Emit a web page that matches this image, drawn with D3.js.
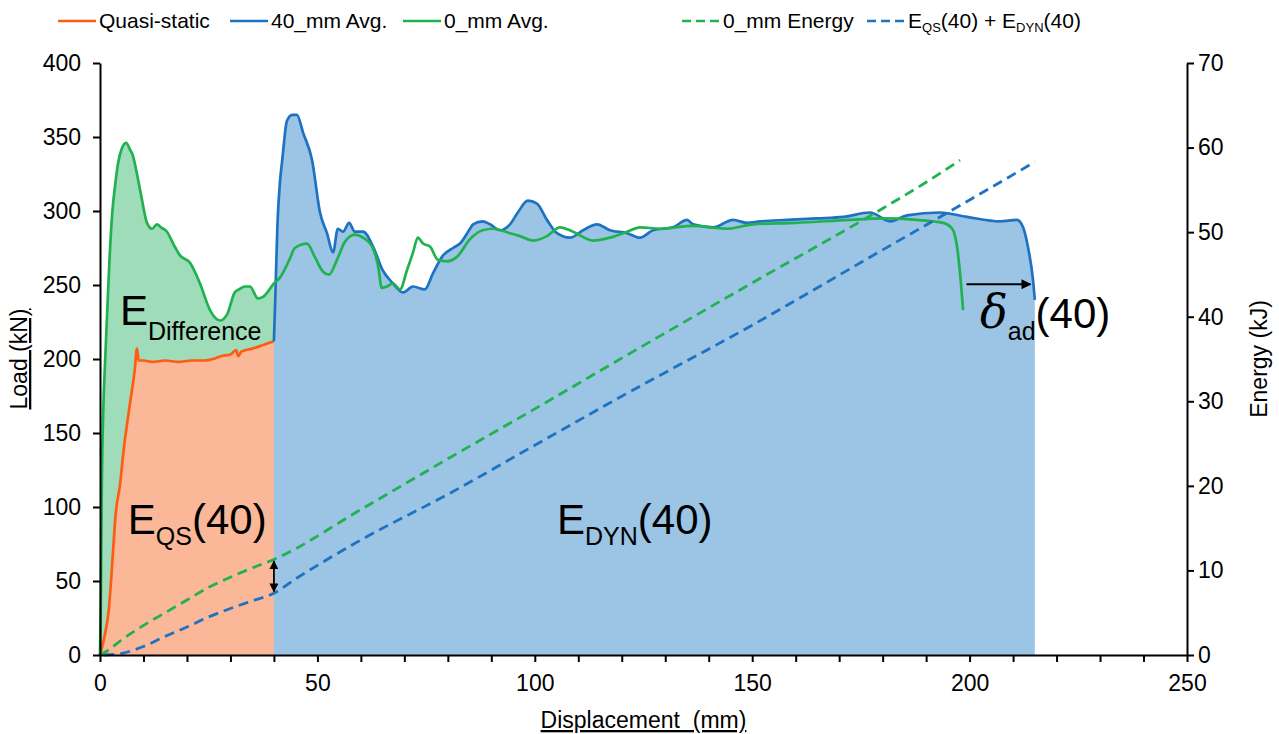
<!DOCTYPE html>
<html>
<head>
<meta charset="utf-8">
<script src="https://cdn.jsdelivr.net/npm/d3@7"></script>
<style>
  body { margin: 0; background: #fff; }
  svg text { font-family: "Liberation Sans", Arial, sans-serif; fill: #000; }
</style>
</head>
<body>
<div id="chart"></div>
<script>
// Load vs displacement, with energy on the right axis

// [displacement mm, load kN]
const quasiStatic = [[0,0],[1,12],[2,30],[3,70],[3.6,95],[4.6,115],[5.5,140],[6.9,170],[8,193],[8.5,207],[8.9,199],[10,199],[12,198],
  [15,199],[18,198],[21,199],[24,199],[26,200],[28,202],[30,203],[31.3,206],[31.8,202],[32.5,205],[35,207],[38,210],[40,212]];

const avg0 = [[0,0],[0.2,40],[0.4,110],[0.8,170],[1.2,200],[1.7,235],[2.2,268],[2.8,298],[3.5,318],[4.2,333],[5,342],[6,346],
  [7,341],[7.5,338],[8.5,325],[9.5,310],[10.8,292],[12,288],[13.1,291],[14,289],[15.4,286],[17,277],[18.4,270],[20.7,265],
  [23,251],[25.3,233],[27.6,226],[29.2,230],[31,245],[32,247],[33.3,249],[34.5,249],[36.3,241],[37.5,242],[40,251],
  [41.4,255],[43.7,268],[44.8,275],[47.6,278],[49.4,269],[51.3,259],[52.7,257],[54.5,267],[56.3,279],[58.6,284],[60.5,282],
  [62.6,276],[64,262],[64.8,248],[66,249],[67.4,251],[69,247],[70.6,260],[72,272],[73.1,282],[74.3,278],[75.9,276],[77.7,267],
  [79.8,266],[82.1,269],[85.1,281],[88,287],[90.4,288],[94.3,285],[96.6,283],[99.6,280],[102.8,283],[105.8,289],[108.8,286],
  [113.4,280],[117.3,282],[121.2,286],[124.2,289],[128.8,288],[136.4,290],[144.2,288],[150.2,291],[160,292],[172.5,294],
  [180.1,295],[187.9,294],[193.9,292],[196,288],[197.1,276],[197.8,258],[198.5,233]];

const avg40 = [[40,212],[40.3,240],[40.8,290],[41.4,320],[41.9,334],[43,361],[44.2,365],[45.3,365],[46.7,353],[48.8,334],
  [50.6,299],[52.2,285],[53.6,272],[54.7,288],[55.9,286],[57.3,292],[58.6,286],[60.5,286],[62.8,276],[65,260],[67.1,252],
  [69.7,245],[72,249],[74.7,247],[76.6,258],[78.9,270],[81.2,275],[82.8,278],[85.1,288],[85.8,291],[88,293],[89.7,291],
  [92,287],[94.3,291],[96.1,299],[98.4,307],[100.5,305],[102.8,294],[105.1,285],[108.1,282],[111.1,287],[114.3,291],
  [117.3,287],[121.2,285],[124.2,282],[127.2,287],[131.8,289],[135,294],[136.4,291],[141,289],[145.6,294],[148.8,292],
  [151.8,293],[158,294],[164.9,295],[171,296],[177.1,299],[181.7,293],[185.6,297],[193.2,299],[199.4,296],[207,293],
  [210.9,294],[212.3,289],[213.4,276],[214.6,253],[215,240]];

// [displacement mm, energy kJ]
const energy0 = [[0,0],[2,0.6],[5,1.8],[10,3.5],[15,5.0],[20,6.5],[25,8.0],[30,9.2],[35,10.3],[40,11.3],[60,17.2],
  [80,23.2],[100,29.1],[120,35.1],[150,44.0],[180,52.8],[190,55.9],[197.8,58.5]];
const energy40 = [[1,0],[5,0.2],[10,1.0],[15,2.2],[20,3.3],[25,4.5],[30,5.5],[35,6.4],[40,7.3],[45,9.0],[50,10.6],
  [60,13.6],[80,19.0],[100,24.8],[120,30.6],[150,39.0],[180,47.9],[200,53.8],[215,58.3]];

const loadTicks = d3.range(0, 401, 50);
const energyTicks = d3.range(0, 71, 10);
const dispTicks = d3.range(0, 251, 10);

const W = 1279, H = 734;
const m = {left: 100, right: 92, top: 63, bottom: 79};
const C = {
  orange: "#ff5b12", orangeFill: "#fbb898",
  green: "#1fb24f", greenFill: "#9fdcba",
  blue: "#1e72c2", blueFill: "#9cc4e4"
};
const tickFont = 23, titleFont = 23, legendFont = 21;

const svg = d3.select("#chart").append("svg").attr("width", W).attr("height", H);
const x = d3.scaleLinear().domain([0, 250]).range([m.left, W - m.right]);
const y = d3.scaleLinear().domain([0, 400]).range([H - m.bottom, m.top]);
const yE = d3.scaleLinear().domain([0, 70]).range([H - m.bottom, m.top]);

const area = d3.area().x(d => x(d[0])).y0(y(0)).y1(d => y(d[1])).curve(d3.curveMonotoneX);
const line = d3.line().x(d => x(d[0])).y(d => y(d[1])).curve(d3.curveMonotoneX);
const lineE = d3.line().x(d => x(d[0])).y(d => yE(d[1])).curve(d3.curveMonotoneX);

// filled regions
svg.append("path").attr("d", area(avg0.filter(d => d[0] <= 40))).attr("fill", C.greenFill);
svg.append("path").attr("d", area(quasiStatic)).attr("fill", C.orangeFill);
svg.append("path").attr("d", area(avg40)).attr("fill", C.blueFill);

// load curves
svg.append("path").attr("d", line(quasiStatic)).attr("fill", "none").attr("stroke", C.orange).attr("stroke-width", 2.7);
svg.append("path").attr("d", line(avg40)).attr("fill", "none").attr("stroke", C.blue).attr("stroke-width", 2.7);
svg.append("path").attr("d", line(avg0)).attr("fill", "none").attr("stroke", C.green).attr("stroke-width", 2.7);

// energy curves
svg.append("path").attr("d", lineE(energy0)).attr("fill", "none").attr("stroke", C.green)
  .attr("stroke-width", 2.8).attr("stroke-dasharray", "10,6");
svg.append("path").attr("d", lineE(energy40)).attr("fill", "none").attr("stroke", C.blue)
  .attr("stroke-width", 2.8).attr("stroke-dasharray", "10,6");

// axes
const axB = svg.append("g").attr("transform", `translate(0,${y(0)})`)
  .call(d3.axisBottom(x).tickValues(dispTicks).tickSize(7).tickSizeOuter(0)
    .tickFormat(d => d % 50 === 0 ? d : ""));
const axL = svg.append("g").attr("transform", `translate(${m.left},0)`)
  .call(d3.axisLeft(y).tickValues(loadTicks).tickSize(7).tickSizeOuter(0));
const axR = svg.append("g").attr("transform", `translate(${W - m.right},0)`)
  .call(d3.axisRight(yE).tickValues(energyTicks).tickSize(7).tickSizeOuter(0));
[axB, axL, axR].forEach(a => {
  a.select(".domain").attr("stroke", "#000").attr("stroke-width", 2);
  a.selectAll(".tick line").attr("stroke", "#000").attr("stroke-width", 2);
  a.selectAll(".tick text").attr("font-size", tickFont).attr("fill", "#000")
    .style("font-family", '"Liberation Sans", Arial, sans-serif');
});
axB.selectAll(".tick text").attr("dy", "1.15em");
axL.selectAll(".tick text").attr("x", -19);
axR.selectAll(".tick text").attr("x", 11);

// axis titles
svg.append("text").attr("transform", `translate(27,${(y(0) + y(400)) / 2}) rotate(-90)`)
  .attr("text-anchor", "middle").attr("font-size", titleFont).style("text-decoration", "underline").text("Load (kN)");
svg.append("text").attr("transform", `translate(1267,${(y(0) + y(400)) / 2}) rotate(-90)`)
  .attr("text-anchor", "middle").attr("font-size", titleFont).text("Energy (kJ)");
svg.append("text").attr("x", x(125)).attr("y", 728).attr("text-anchor", "middle").attr("font-size", titleFont)
  .style("text-decoration", "underline").attr("xml:space", "preserve").text("Displacement  (mm)");

// arrows
const defs = svg.append("defs");
defs.append("marker").attr("id", "ah").attr("viewBox", "0 0 10 10").attr("refX", 9).attr("refY", 5)
  .attr("markerWidth", 5).attr("markerHeight", 5).attr("orient", "auto-start-reverse")
  .append("path").attr("d", "M0,0 L10,5 L0,10 z").attr("fill", "#000");
svg.append("line").attr("x1", x(40)).attr("x2", x(40)).attr("y1", yE(11.1)).attr("y2", yE(7.5))
  .attr("stroke", "#000").attr("stroke-width", 1.8)
  .attr("marker-start", "url(#ah)").attr("marker-end", "url(#ah)");
svg.append("line").attr("x1", x(199.3)).attr("x2", x(214)).attr("y1", y(250.5)).attr("y2", y(250.5))
  .attr("stroke", "#000").attr("stroke-width", 2).attr("marker-end", "url(#ah)");

// annotations
function label(xv, yv, parts) {
  const t = svg.append("text").attr("x", x(xv)).attr("y", y(yv));
  parts.forEach(p => {
    const s = t.append("tspan").attr("font-size", p.size).text(p.text);
    if (p.dy) s.attr("dy", p.dy);
    if (p.italic) s.attr("font-style", "italic").style("font-family", '"DejaVu Serif", serif');
  });
  return t;
}
label(4.6, 223, [{text: "E", size: 42}, {text: "Difference", size: 25, dy: 15}]);
label(6.4, 82, [{text: "E", size: 42}, {text: "QS", size: 25, dy: 11}, {text: "(40)", size: 42, dy: -11}]);
label(105.1, 82, [{text: "E", size: 42}, {text: "DYN", size: 25, dy: 11}, {text: "(40)", size: 42, dy: -11}]);
label(202.4, 221, [{text: "\u03b4", size: 46, italic: true}, {text: "ad", size: 25, dy: 12}, {text: "(40)", size: 42, dy: -12}]);

// legend
const legend = [
  {name: "Quasi-static", color: C.orange, dash: null, x: 58},
  {name: "40_mm Avg.", color: C.blue, dash: null, x: 230},
  {name: "0_mm Avg.", color: C.green, dash: null, x: 403},
  {name: "0_mm Energy", color: C.green, dash: "9,5", x: 682},
  {name: "E_QS(40) + E_DYN(40)", color: C.blue, dash: "9,5", x: 867}
];
legend.forEach(l => {
  svg.append("line").attr("x1", l.x).attr("x2", l.x + 38).attr("y1", 21).attr("y2", 21)
    .attr("stroke", l.color).attr("stroke-width", 2.7).attr("stroke-dasharray", l.dash);
  const t = svg.append("text").attr("x", l.x + 41).attr("y", 28).attr("font-size", legendFont);
  if (l.name.startsWith("E_")) {
    t.append("tspan").text("E");
    t.append("tspan").attr("font-size", 13).attr("dy", 4).text("QS");
    t.append("tspan").attr("dy", -4).text("(40) + E");
    t.append("tspan").attr("font-size", 13).attr("dy", 4).text("DYN");
    t.append("tspan").attr("dy", -4).text("(40)");
  } else {
    t.text(l.name);
  }
});
</script>
</body>
</html>
